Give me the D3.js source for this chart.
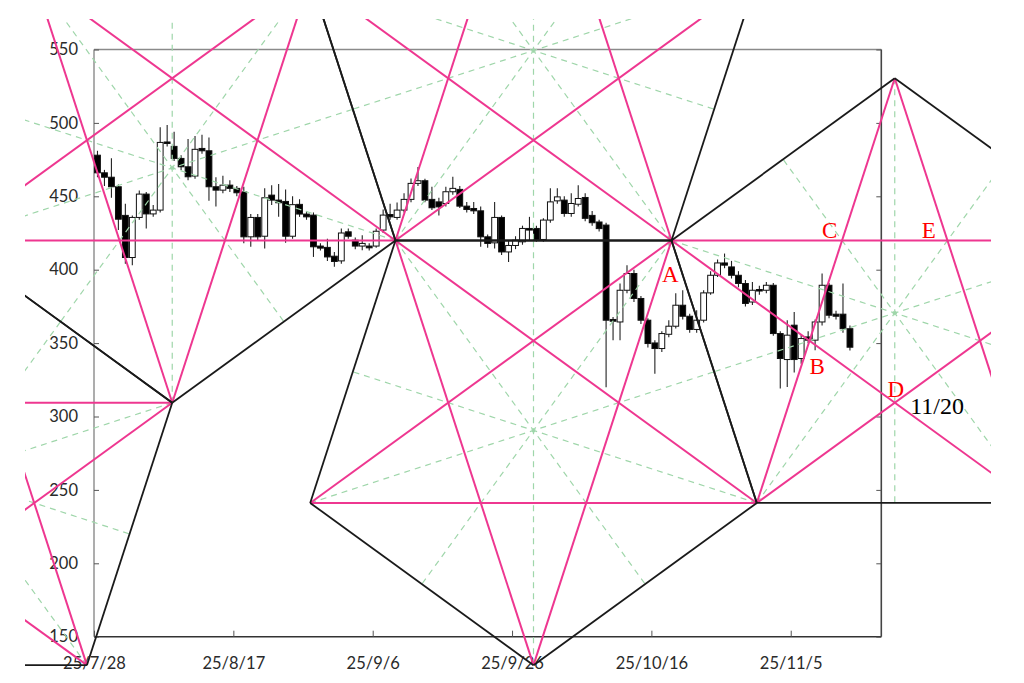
<!DOCTYPE html>
<html>
<head>
<meta charset="utf-8">
<script src="https://cdn.jsdelivr.net/npm/d3@7"></script>
<style>
  body { margin: 0; background: #fff; }
  svg { display: block; }
</style>
</head>
<body>
<svg id="chart" width="1024" height="683"></svg>
<script>
// daily candles, one per calendar day from 25/7/28
const firstDay = new Date(Date.UTC(2025, 6, 28));
const lastDay = new Date(Date.UTC(2025, 10, 18));

const open = [
  478, 466, 463, 456.5, 437, 408.3, 435.6, 451.5, 438, 440.6,
  487, 484, 475.8, 470.1, 463.8, 482.6, 481, 456.5, 454.2, 457.6,
  455.4, 453, 422.4, 435.6, 422.8, 450.8, 447.4, 446.5, 422.8, 444.5,
  437.9, 437.2, 416.1, 415.2, 409.2, 406, 425.8, 420.1, 416.1, 416.1,
  416.1, 427, 437.6, 435.6, 440.6, 447.9, 458.8, 460.6, 447.9, 446.2,
  445.1, 453.1, 454.7, 443.3, 441.7, 440.1, 422.4, 418.3, 435.6, 412.1,
  416.5, 419, 428.1, 428.1, 420.6, 433.8, 446.9, 447.4, 438.3, 444.6,
  449.2, 437, 432.5, 430.4, 366.1, 364.4, 386, 397.4, 380.4, 365.6,
  350.1, 346.3, 356, 361.5, 375.8, 368.3, 359.3, 365.6, 384.2, 396.2,
  404.6, 401.9, 396.2, 390.6, 378, 386.5, 386, 389.4, 356.5, 338.8,
  362.2, 339.5, 354.2, 352, 364.4, 389.4, 369.7, 369.7, 359.8
];
const high = [
  481, 468, 476, 458, 445, 437, 454, 453, 444, 497,
  498.5, 494, 478, 489, 491, 492, 490, 463, 464, 461,
  457, 456.5, 438, 438, 455.4, 457.6, 458.3, 454.7, 450, 448,
  440, 439, 418, 421, 412, 428, 428, 422, 423.5, 418,
  428, 441, 445, 445.8, 452, 462.2, 470, 462, 456.5, 449,
  456.5, 463.3, 457, 446.2, 446.2, 443, 424, 446.2, 437, 420.1,
  422.8, 430, 436, 430, 435, 455.4, 455.4, 450, 452, 457.6,
  452, 440, 434, 432, 367.8, 390.6, 403, 400, 382, 367,
  352, 358, 365.6, 383.9, 386, 370, 372.4, 386, 399, 407,
  411, 406, 399, 393, 391.7, 389, 391.7, 391, 358, 365.6,
  371.2, 356, 358, 366, 397.4, 391, 372, 390.6, 362
];
const low = [
  463, 457, 449, 427, 404, 403, 434, 428, 436, 439,
  484, 474, 468, 461, 462, 479, 447, 443, 452, 453,
  450, 418, 415.6, 420, 414.5, 444, 436, 418.3, 421, 436,
  434, 408.7, 413, 406, 402, 404, 421, 414, 413.3, 413,
  415, 425, 434, 434, 439, 446, 457, 446, 440.6, 437,
  443, 451, 442, 439, 438, 415.6, 415, 414.5, 410, 405.3,
  414, 417, 420.1, 419, 419, 432, 445, 436, 436, 443,
  433, 430, 426, 319.9, 352, 352, 384, 378, 363, 347,
  329.2, 344, 354, 360, 366, 357, 357, 364, 383, 395,
  401, 394, 388, 375, 376, 383, 384, 355, 319, 320.1,
  330, 336, 350, 345.1, 362, 367, 366, 357, 345
];
const close = [
  466, 463, 456.5, 434.4, 408.3, 435.6, 451.5, 438, 440.6, 486.7,
  486, 475.8, 470.1, 463.3, 482, 481, 456.5, 454.2, 457.6, 455.4,
  452.4, 422.4, 435.6, 422.4, 449, 447.4, 445.6, 422.8, 444.3, 437.9,
  436, 415.6, 414.7, 408.7, 405.6, 425, 422.8, 416.1, 417.9, 414.9,
  426.2, 437.2, 436, 440.6, 447.9, 458.8, 460.6, 447.4, 442.2, 442.8,
  453.1, 455.4, 443.3, 441, 440.1, 422.4, 417.9, 435.6, 412.1, 416.5,
  420.1, 428.1, 427, 420.6, 433.8, 446.2, 449.6, 438.3, 445.1, 448.5,
  435, 432, 428, 365.6, 364.9, 386, 397.4, 380.4, 365.6, 349.7,
  346.3, 356.5, 361.5, 375.8, 368.3, 359.3, 365.6, 384.2, 396.2, 404.6,
  403.1, 396.2, 390.6, 377, 386, 385.6, 389.4, 356.5, 339.5, 355.4,
  338.8, 353.1, 352, 364.4, 389.4, 369, 368.3, 359.8, 347.2
];

const yTicks = [150, 200, 250, 300, 350, 400, 450, 500, 550];
const xTicks = ["2025-07-28", "2025-08-17", "2025-09-06", "2025-09-26", "2025-10-16", "2025-11-05"];

// pentagon corners: [name, days after 25/7/28, price]
const pivots = [
  ["ULa", -52.87, 309.4],
  ["LLa", -40.63, 130.6],
  ["Ta", -20.82, 419.9],
  ["V0", -1.02, 130.6],
  ["P1", 11.23, 309.4],
  ["UL1", -8.58, 598.7],
  ["UR1", 31.03, 598.7],
  ["P2", 43.27, 419.9],
  ["T2", 63.08, 709.2],
  ["UR2", 95.13, 598.7],
  ["P3", 82.89, 419.9],
  ["P4", 31.03, 241.1],
  ["P6", 63.08, 130.6],
  ["P5", 95.13, 241.1],
  ["P7", 114.93, 530.4],
  ["UR4", 146.98, 419.9],
  ["LR4", 134.74, 241.1]
];
// each pentagon as its corners in order round the outline
const pentagons = [
  ["Ta", "P1", "V0", "LLa", "ULa"],
  ["P1", "Ta", "UL1", "UR1", "P2"],
  ["T2", "UR2", "P3", "P2", "UR1"],
  ["P6", "P4", "P2", "P3", "P5"],
  ["P7", "UR4", "LR4", "P5", "P3"]
];
// drawing window of the overlay: [day, price] corners
const overlayWindow = [[-9.9, 570.8], [128.74, 130.0]];

const letters = [
  ["A", 82.7, 397.0],
  ["B", 103.8, 334.4],
  ["C", 105.6, 426.4],
  ["D", 115.1, 318.7],
  ["E", 119.8, 426.4]
];
const dateNote = ["11/20", 121.0, 307.2];

const svg = d3.select("#chart");
const plotL = 94, plotR = 881.3, plotT = 49.5, plotB = 636.7;

const x = d3.scaleUtc().domain([firstDay, lastDay]).range([plotL, plotR]);
const y = d3.scaleLinear().domain([150, 550]).range([plotB, plotT]);
const dayX = (d) => x(new Date(firstDay.getTime() + d * 864e5));

// frame
const frame = svg.append("g");
frame.append("line").attr("x1", plotL).attr("x2", plotR).attr("y1", plotT).attr("y2", plotT)
  .attr("stroke", "#8a8a8a").attr("stroke-width", 1.4);
frame.append("line").attr("x1", plotL).attr("x2", plotL).attr("y1", plotT).attr("y2", plotB)
  .attr("stroke", "#8a8a8a").attr("stroke-width", 1.4);
frame.append("line").attr("x1", plotR).attr("x2", plotR).attr("y1", plotT).attr("y2", plotB)
  .attr("stroke", "#444").attr("stroke-width", 1.6);
frame.append("line").attr("x1", plotL).attr("x2", plotR).attr("y1", plotB).attr("y2", plotB)
  .attr("stroke", "#333").attr("stroke-width", 1.6);

const yAxis = svg.append("g")
  .attr("transform", `translate(${plotL},0)`)
  .call(d3.axisLeft(y).tickValues(yTicks).tickSizeInner(-5).tickSizeOuter(0).tickPadding(16));
const yAxisR = svg.append("g")
  .attr("transform", `translate(${plotR},0)`)
  .call(d3.axisRight(y).tickValues(yTicks).tickSizeInner(-5).tickSizeOuter(0).tickFormat(""));
const xAxis = svg.append("g")
  .attr("transform", `translate(0,${plotB})`)
  .call(d3.axisBottom(x)
    .tickValues(xTicks.map((s) => new Date(s + "T00:00:00Z")))
    .tickFormat(d3.utcFormat("%y/%-m/%-d"))
    .tickSizeInner(-6).tickSizeOuter(0).tickPadding(21));

[yAxis, yAxisR, xAxis].forEach((g) => {
  g.select(".domain").remove();
  g.selectAll(".tick line").attr("stroke", "#555");
  g.selectAll("text")
    .style("font-family", "Lato, 'Open Sans', sans-serif")
    .style("font-size", "16.5px")
    .attr("fill", "#2a2a2a");
});

// candles
const candles = open.map((o, i) => ({
  date: d3.utcDay.offset(firstDay, i),
  o: o, h: high[i], l: low[i], c: close[i]
}));
const half = 2.9;
const cx = (d) => x(d3.utcHour.offset(d.date, 12));

const cg = svg.append("g");
cg.selectAll("line.wick")
  .data(candles)
  .join("line")
  .attr("class", "wick")
  .attr("x1", cx).attr("x2", cx)
  .attr("y1", (d) => y(d.h)).attr("y2", (d) => y(d.l))
  .attr("stroke", "#222").attr("stroke-width", 1.1);
cg.selectAll("rect")
  .data(candles)
  .join("rect")
  .attr("x", (d) => cx(d) - half)
  .attr("width", half * 2)
  .attr("y", (d) => y(Math.max(d.o, d.c)))
  .attr("height", (d) => Math.max(1.5, Math.abs(y(d.o) - y(d.c))))
  .attr("fill", (d) => (d.c >= d.o ? "#fff" : "#000"))
  .attr("stroke", "#111")
  .attr("stroke-width", 1);

// pentagon overlay
const pt = new Map(pivots.map(([n, d, p]) => [n, [dayX(d), y(p)]]));

svg.append("clipPath").attr("id", "win")
  .append("rect")
  .attr("x", dayX(overlayWindow[0][0]))
  .attr("y", y(overlayWindow[0][1]))
  .attr("width", dayX(overlayWindow[1][0]) - dayX(overlayWindow[0][0]))
  .attr("height", y(overlayWindow[1][1]) - y(overlayWindow[0][1]));

const edges = [], diagonals = [], axesLines = [];
pentagons.forEach((names) => {
  const v = names.map((n) => pt.get(n));
  for (let i = 0; i < 5; i++) {
    edges.push([v[i], v[(i + 1) % 5]]);
    diagonals.push([v[i], v[(i + 2) % 5]]);
    const a = v[(i + 2) % 5], b = v[(i + 3) % 5];
    axesLines.push([v[i], [(a[0] + b[0]) / 2, (a[1] + b[1]) / 2]]);
  }
});

const overlay = svg.append("g").attr("clip-path", "url(#win)");
const drawSet = (set, stroke, width, dash) => {
  overlay.append("g")
    .selectAll("line")
    .data(set)
    .join("line")
    .attr("x1", (d) => d[0][0]).attr("y1", (d) => d[0][1])
    .attr("x2", (d) => d[1][0]).attr("y2", (d) => d[1][1])
    .attr("stroke", stroke)
    .attr("stroke-width", width)
    .attr("stroke-dasharray", dash);
};
drawSet(axesLines, "#9fd6aa", 1.2, "6,5");
drawSet(diagonals, "#ee3790", 2, null);
drawSet(edges, "#1a1a1a", 1.8, null);

// labels
svg.append("g")
  .selectAll("text")
  .data(letters)
  .join("text")
  .attr("x", (d) => dayX(d[1]))
  .attr("y", (d) => y(d[2]))
  .attr("text-anchor", "middle")
  .attr("dominant-baseline", "central")
  .style("font-family", "'Liberation Serif', 'DejaVu Serif', serif")
  .style("font-size", "23px")
  .attr("fill", "#ff0000")
  .text((d) => d[0]);

svg.append("text")
  .attr("x", dayX(dateNote[1]))
  .attr("y", y(dateNote[2]))
  .attr("text-anchor", "middle")
  .attr("dominant-baseline", "central")
  .style("font-family", "'Liberation Serif', 'DejaVu Serif', serif")
  .style("font-size", "24px")
  .attr("fill", "#000")
  .text(dateNote[0]);
</script>
</body>
</html>
